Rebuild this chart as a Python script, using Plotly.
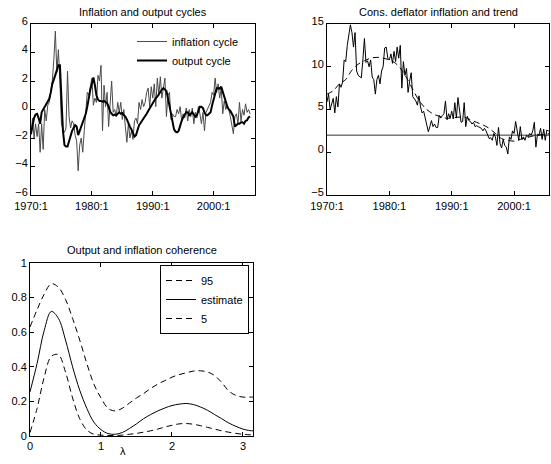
import plotly.graph_objects as go

# ---------------- data ----------------
start_year = 1970
n_quarters = 145  # 1970:1 .. 2006:1

inflation_cycle = [
    -1.8, -0.6, -2.0, -1.0, -1.9, -1.0, -3.0, -1.0, -2.8, 0.0,
    -0.8, 0.3, 0.5, 1.2, 2.0, 3.5, 5.5, 2.6, 4.2, 2.0,
    -1.0, -1.4, -1.6, -1.3, 2.7, -0.5, -1.3, -0.8, -1.0, -1.8,
    -2.2, -4.3, -2.5, -2.0, -3.0, -1.5, -0.2, 1.2, 1.0, 1.6,
    2.2, 0.3, 0.8, 0.5, 2.4, 2.0, 3.1, -1.5, 1.7, 0.2,
    1.2, -1.2, 0.2, 2.0, -0.2, 0.0, -0.5, 0.5, -0.2, 0.5,
    -0.7, 0.0, -1.2, -2.3, -1.0, -2.0, -1.5, -2.1, -0.8, -0.6,
    -1.0, 0.5, 0.0, 0.7, 0.2, 0.5, 1.2, 1.5, 0.2, 1.6,
    0.8, 1.8, 0.2, 2.2, 1.0, 2.3, 0.8, 1.5, 2.2, -0.5,
    1.0, 1.2, -0.7, -0.3, -0.5, -0.5, 0.0, -0.3, 0.2, -0.8,
    -0.3, -0.6, 0.1, -0.8, 0.0, -0.5, 0.1, -1.0, -0.2, -0.6,
    0.2, -0.3, -1.0, -0.2, -1.5, -0.2, 0.0, 0.3, 0.5, 1.2,
    1.0, 2.2, 1.2, 1.8, 0.8, 1.5, -0.3, 0.6, 0.0, 0.3,
    0.0, -0.5, -1.0, -1.7, -0.5, -0.3, -1.0, 0.5, -0.8, 0.0,
    -0.4, 0.4, -0.2, 0.0, -0.3,
]

output_cycle = [
    -1.7, -1.2, -0.6, -0.35, -0.3, -0.6, -1.0, -0.2, 0.0, 0.2,
    0.45, 0.55, 0.75, 1.2, 1.8, 2.1, 2.5, 2.9, 3.1, 3.1,
    1.0, -1.5, -2.5, -2.6, -2.6, -2.2, -1.8, -1.5, -1.3, -1.1,
    -1.2, -1.8, -1.5, -1.2, -1.0, -0.7, -0.3, 0.2, 1.0, 1.4,
    1.8, 2.25, 1.7, 1.0, 0.7, 0.6, 0.6, 0.55, 0.6, 0.55,
    0.45, 0.2, -0.15, -0.3, -0.4, -0.35, -0.4, -0.3, -0.2, -0.3,
    -0.25, -0.4, -0.5, -0.7, -1.0, -1.2, -1.4, -1.6, -1.9, -1.8,
    -1.4, -1.1, -0.95, -0.8, -0.6, -0.45, -0.3, -0.1, 0.1, 0.25,
    0.5, 0.65, 0.8, 0.9, 1.1, 1.25, 1.4, 1.5, 1.4, 1.3,
    0.8, 0.2, -0.4, -0.9, -1.4, -1.55, -1.6, -1.5, -1.1, -0.8,
    -0.55, -0.35, -0.2, -0.2, -0.4, -0.3, -0.2, -0.35, -0.5, -0.4,
    -0.1, 0.2, 0.2, 0.1, -0.2, -0.4, -0.4, -0.3, -0.2, 0.3,
    0.7, 1.1, 1.5, 1.5, 1.45, 1.6, 1.2, 0.8, 0.4, 0.2,
    0.0, -0.1, -0.3, -0.5, -1.2, -1.1, -1.0, -1.0, -0.9, -0.9,
    -1.0, -0.8, -0.75, -0.55, -0.5,
]

inflation = [
    5.9, 6.8, 5.0, 5.8, 6.3, 4.6, 6.5, 5.3, 8.0, 7.6,
    8.2, 10.8, 10.6, 12.5, 13.8, 14.9, 14.0, 12.3, 14.0, 9.5,
    9.0, 8.8, 8.7, 10.8, 13.3, 10.5, 10.7, 10.0, 10.8, 8.8,
    8.5, 6.8, 8.5, 9.0, 8.0, 9.5, 10.0, 12.2, 12.3, 11.0,
    10.8, 11.5, 10.4, 11.8, 10.6, 12.3, 11.0, 12.5, 7.5, 10.6,
    9.0, 9.8, 7.0, 8.3, 9.3, 6.5, 6.2, 6.0, 5.5, 6.6,
    5.3, 4.6, 4.8, 4.0, 3.5, 2.4, 3.0, 3.7, 3.0, 3.3,
    2.9, 2.9, 4.3, 4.0, 4.3, 4.5, 6.0, 3.8, 4.5, 4.0,
    4.8, 3.9, 5.8, 4.0, 6.4, 5.0, 3.5, 3.6, 5.8, 3.0,
    4.2, 3.7, 3.6, 3.3, 3.5, 3.0, 3.1, 3.0, 2.9, 2.8,
    2.5, 2.8, 2.5, 2.0, 1.6, 1.7, 1.4, 2.2, 1.8, 0.8,
    2.9, 1.0, 0.5, 1.5, 0.8, 0.6, -0.2, 1.8, 1.5, 2.5,
    2.2, 3.6, 2.5, 1.4, 3.0, 1.5, 1.8, 1.4, 2.0, 1.8,
    2.2, 2.0, 2.5, 3.5, 0.6, 2.1, 2.0, 2.8, 1.5, 2.7,
    1.4, 2.6, 2.5, 2.6, 2.5,
]

trend_years = [1970, 1971, 1972, 1973, 1974, 1975, 1976, 1977, 1978, 1979,
               1980, 1981, 1982, 1983, 1984, 1985, 1986, 1987, 1988, 1989,
               1990, 1991, 1992, 1993, 1994, 1995, 1996, 1997, 1998, 1999,
               2000, 2001, 2002, 2003, 2004, 2005, 2006]
trend = [6.8, 7.2, 8.0, 8.5, 9.6, 10.3, 10.7, 11.0, 11.1, 11.0,
         10.8, 10.4, 9.6, 8.4, 7.0, 5.8, 5.0, 4.5, 4.2, 4.0,
         4.0, 4.1, 4.1, 3.8, 3.5, 3.2, 2.8, 2.2, 1.6, 1.4,
         1.3, 1.5, 1.7, 1.9, 2.0, 2.1, 2.2]
target = 2.0

time_ticks = [1970, 1980, 1990, 2000]
time_ticktext = ["1970:1", "1980:1", "1990:1", "2000:1"]

lam = [0.0, 0.1, 0.2, 0.3, 0.4, 0.5, 0.6, 0.7, 0.8, 0.9,
       1.0, 1.1, 1.2, 1.3, 1.4, 1.5, 1.6, 1.7, 1.8, 1.9,
       2.0, 2.1, 2.2, 2.3, 2.4, 2.5, 2.6, 2.7, 2.8, 2.9,
       3.0, 3.1, 3.1416]
coh_95 = [0.63, 0.73, 0.82, 0.88, 0.86, 0.79, 0.68, 0.555, 0.42, 0.30,
          0.22, 0.16, 0.145, 0.16, 0.19, 0.22, 0.245, 0.275, 0.30, 0.32,
          0.34, 0.355, 0.365, 0.375, 0.377, 0.37, 0.35, 0.31, 0.26, 0.235,
          0.225, 0.225, 0.225]
coh_est = [0.255, 0.42, 0.61, 0.72, 0.68, 0.555, 0.40, 0.265, 0.16, 0.08,
           0.037, 0.014, 0.01, 0.02, 0.043, 0.07, 0.10, 0.124, 0.145, 0.162,
           0.176, 0.184, 0.188, 0.182, 0.168, 0.149, 0.124, 0.10, 0.075, 0.056,
           0.04, 0.031, 0.03]
coh_5 = [0.02, 0.16, 0.34, 0.46, 0.47, 0.37, 0.22, 0.10, 0.035, 0.01,
         0.005, 0.003, 0.003, 0.005, 0.01, 0.015, 0.022, 0.03, 0.04, 0.052,
         0.062, 0.07, 0.072, 0.068, 0.06, 0.05, 0.04, 0.03, 0.022, 0.015,
         0.01, 0.007, 0.006]

# time axis (quarterly)
t = [start_year + q / 4 for q in range(n_quarters)]

# ---------------- figure ----------------
W, H = 551, 464
FONT = "Liberation Sans, Arial, Helvetica, sans-serif"
DASH = "6px,4px"


def xdom(l, r):
    return [l / W, r / W]


def ydom(top, bot):
    return [1 - bot / H, 1 - top / H]


fig = go.Figure()

# Panel 1
fig.add_trace(go.Scatter(x=t, y=inflation_cycle, mode="lines", name="inflation cycle",
                         line=dict(color="#4a4a4a", width=1), xaxis="x", yaxis="y",
                         legend="legend"))
fig.add_trace(go.Scatter(x=t, y=output_cycle, mode="lines", name="output cycle",
                         line=dict(color="black", width=2), xaxis="x", yaxis="y",
                         legend="legend"))

# Panel 2
fig.add_trace(go.Scatter(x=t, y=[target] * len(t), mode="lines", showlegend=False,
                         line=dict(color="#333333", width=1), xaxis="x2", yaxis="y2"))
fig.add_trace(go.Scatter(x=trend_years, y=trend, mode="lines", showlegend=False,
                         line=dict(color="black", width=1, dash=DASH, shape="spline"),
                         xaxis="x2", yaxis="y2"))
fig.add_trace(go.Scatter(x=t, y=inflation, mode="lines", showlegend=False,
                         line=dict(color="black", width=1), xaxis="x2", yaxis="y2"))

# Panel 3
fig.add_trace(go.Scatter(x=lam, y=coh_95, mode="lines", name="95",
                         line=dict(color="black", width=1, dash=DASH, shape="spline"),
                         xaxis="x3", yaxis="y3", legend="legend2"))
fig.add_trace(go.Scatter(x=lam, y=coh_est, mode="lines", name="estimate",
                         line=dict(color="black", width=1, shape="spline"),
                         xaxis="x3", yaxis="y3", legend="legend2"))
fig.add_trace(go.Scatter(x=lam, y=coh_5, mode="lines", name="5",
                         line=dict(color="black", width=1, dash=DASH, shape="spline"),
                         xaxis="x3", yaxis="y3", legend="legend2"))

axis_common = dict(showline=True, linecolor="black", linewidth=1, mirror="ticks",
                   ticks="inside", ticklen=4, tickcolor="black", showgrid=False,
                   zeroline=False, automargin=False,
                   tickfont=dict(family=FONT, size=11, color="black"))

fig.update_layout(
    template="none",
    width=W, height=H,
    margin=dict(l=0, r=0, t=0, b=0, pad=0),
    paper_bgcolor="white", plot_bgcolor="white",
    font=dict(family=FONT, size=11, color="black"),
    xaxis=dict(domain=xdom(31, 255), range=[1970, 2006.8], tickvals=time_ticks,
               ticktext=time_ticktext, anchor="y", ticklabelstandoff=1, **axis_common),
    yaxis=dict(domain=ydom(24, 195), range=[-6, 6], tickvals=[-6, -4, -2, 0, 2, 4, 6],
               anchor="x", ticklabelshift=-3, **axis_common),
    xaxis2=dict(domain=xdom(327, 549), range=[1970, 2005.6], tickvals=time_ticks,
                ticktext=time_ticktext, anchor="y2", ticklabelstandoff=1, **axis_common),
    yaxis2=dict(domain=ydom(24, 195), range=[-5, 15], tickvals=[-5, 0, 5, 10, 15],
                anchor="x2", ticklabelshift=-3, **axis_common),
    xaxis3=dict(domain=xdom(30, 253), range=[0, 3.1416], tickvals=[0, 1, 2, 3],
                anchor="y3", **axis_common),
    yaxis3=dict(domain=ydom(263, 436), range=[0, 1], tickvals=[0, 0.2, 0.4, 0.6, 0.8, 1],
                ticktext=["0", "0.2", "0.4", "0.6", "0.8", "1"],
                anchor="x3", **axis_common),
    legend=dict(x=132 / W, y=1 - 27 / H, xanchor="left", yanchor="top",
                bgcolor="rgba(0,0,0,0)", borderwidth=0,
                font=dict(family=FONT, size=11, color="black"), tracegroupgap=0),
    legend2=dict(x=249 / W, y=1 - 265 / H, xanchor="right", yanchor="top",
                 bgcolor="white", bordercolor="black", borderwidth=1,
                 font=dict(family=FONT, size=11, color="black"), tracegroupgap=0),
    showlegend=True,
)

titles = [
    ("Inflation and output cycles", 143, 12),
    ("Cons. deflator inflation and trend", 438, 12),
    ("Output and inflation coherence", 142, 250),
]
for txt, px, py in titles:
    fig.add_annotation(text=txt, x=px / W, y=1 - py / H, xref="paper", yref="paper",
                       showarrow=False, xanchor="center", yanchor="middle",
                       font=dict(family=FONT, size=11, color="black"))

fig.add_annotation(text="λ", x=123 / W, y=1 - 451 / H, xref="paper", yref="paper",
                   showarrow=False, xanchor="center", yanchor="middle",
                   font=dict(family=FONT, size=11, color="black"))

fig.write_html("out.html")
